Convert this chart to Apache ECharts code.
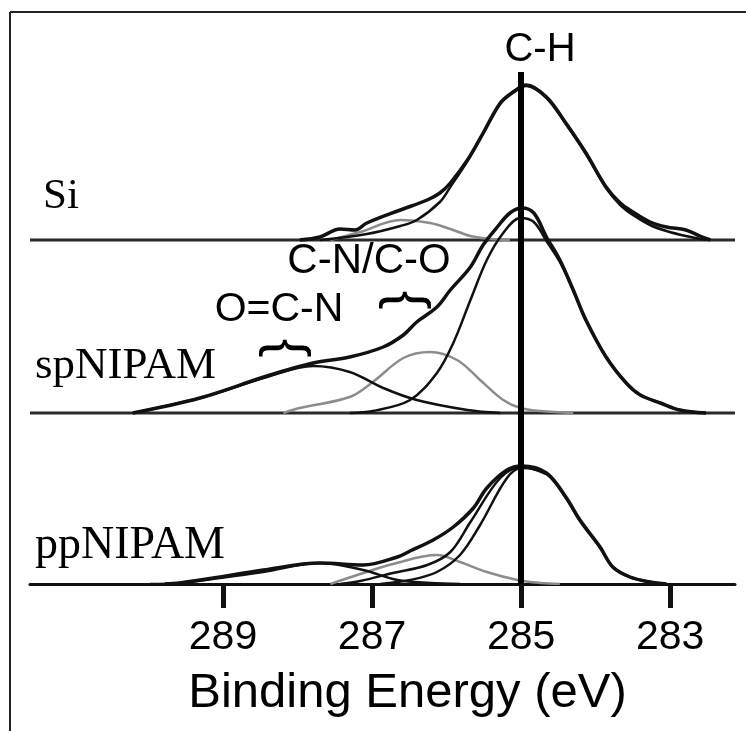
<!DOCTYPE html>
<html>
<head>
<meta charset="utf-8">
<script src="https://cdn.jsdelivr.net/npm/echarts@6/dist/echarts.min.js"></script>
<style>
    html, body { margin: 0; padding: 0; background: #fff; }
    #cn { width: 746px; height: 731px; }
</style>
</head>
<body>
<div id="cn"></div>
<script>
'use strict';

// binding energy (eV), intensity above own baseline (a.u.)
const siEnvelope = [[287.97,0],[287.70,3],[287.43,11],[287.23,10],[287.07,17],[286.62,30],[286.26,40],[286.09,47],[285.95,57],[285.72,80],[285.51,107],[285.28,137],[285.11,148],[284.93,155],[284.66,143],[284.40,117],[284.13,87],[283.86,53],[283.67,37],[283.50,28],[283.27,18],[283.05,13],[282.79,10],[282.60,4],[282.46,0]];
const siCH = [[287.70,0],[287.07,6],[286.62,14],[286.40,20],[286.09,38],[285.95,53],[285.72,79],[285.51,106],[285.28,136],[285.11,147],[284.93,154],[284.66,142],[284.40,116],[284.13,86],[283.86,52],[283.67,35],[283.50,25],[283.27,15],[283.05,9],[282.79,4],[282.52,0]];
const siCN = [[287.56,0],[287.16,8],[286.62,20],[286.22,17],[285.95,11],[285.68,4],[285.42,1],[285.15,0]];

const spEnvelope = [[290.21,0],[289.31,15],[288.41,37],[287.79,50],[287.30,56],[286.85,66],[286.58,78],[286.40,91],[286.13,106],[285.95,123],[285.68,146],[285.51,168],[285.32,186],[285.15,200],[284.99,205],[284.83,200],[284.66,176],[284.48,153],[284.30,123],[284.13,93],[283.86,56],[283.59,30],[283.40,18],[283.13,10],[282.87,3],[282.52,0]];
const spCH = [[287.30,0],[286.99,2],[286.49,13],[286.13,40],[285.91,70],[285.68,113],[285.46,153],[285.24,180],[285.01,195],[284.83,191],[284.66,172],[284.48,151],[284.30,122],[284.13,92],[283.86,56],[283.59,30],[283.40,18],[283.13,10],[282.87,3],[282.52,0]];
const spCN = [[288.19,0],[287.97,5],[287.30,16],[286.99,31],[286.58,55],[286.22,61],[285.86,53],[285.55,33],[285.24,13],[285.01,5],[284.74,2],[284.30,0]];
const spOCN = [[290.21,0],[289.31,15],[288.41,36],[287.79,47],[287.30,41],[286.85,25],[286.40,13],[285.72,3],[285.28,0]];

const ppEnvelope = [[289.78,0],[289.58,1],[289.04,7],[288.46,14],[287.70,21],[287.12,19],[286.66,27],[286.49,33],[286.18,44],[285.91,57],[285.64,76],[285.46,96],[285.19,114],[284.99,118],[284.66,111],[284.40,87],[284.21,64],[283.94,37],[283.77,17],[283.54,7],[283.27,2],[283.05,0]];
const ppCH = [[286.89,0],[286.49,4],[286.13,12],[285.82,29],[285.55,59],[285.19,106],[284.99,116],[284.66,110],[284.40,86],[284.21,63],[283.94,36],[283.77,17],[283.54,7],[283.27,2],[283.05,0]];
const ppFit = [[287.43,0],[287.16,3],[286.72,11],[286.26,19],[285.95,32],[285.68,62],[285.28,106],[284.99,117],[284.66,110]];
const ppCN = [[287.56,0],[287.16,10],[286.72,20],[286.13,29],[285.82,22],[285.46,12],[285.05,4],[284.74,1],[284.48,0]];
const ppOCN = [[289.98,0],[289.58,1],[289.04,6],[288.46,12],[287.70,21],[287.12,14],[286.66,4],[286.22,1],[285.82,0]];

const sampleNames = ['Si', 'spNIPAM', 'ppNIPAM'];
const sampleOffsets = [344, 171, 0];
const tickValues = [289, 287, 285, 283];
const energyMin = 282.13;
const energyMax = 291.59;
const chPosition = 285;
const chLineTop = 512;

const BLACK = '#111';
const GREY = '#8c8c8c';

function curve(pts, offset, color, width) {
    return {
        type: 'line',
        data: pts.map(p => [p[0], p[1] + offset]),
        smooth: 0.35,
        showSymbol: false,
        silent: true,
        lineStyle: { color: color, width: width },
        z: 3
    };
}

function baseline(offset) {
    return {
        type: 'line',
        data: [[energyMax, offset], [energyMin, offset]],
        showSymbol: false,
        silent: true,
        lineStyle: { color: '#2a2a2a', width: 3 },
        z: 2
    };
}

const series = [
    baseline(sampleOffsets[0]),
    baseline(sampleOffsets[1]),
    curve(siCN, sampleOffsets[0], GREY, 2.5),
    curve(siCH, sampleOffsets[0], BLACK, 2.5),
    curve(siEnvelope, sampleOffsets[0], BLACK, 3.5),
    curve(spCN, sampleOffsets[1], GREY, 2.5),
    curve(spOCN, sampleOffsets[1], BLACK, 2.5),
    curve(spCH, sampleOffsets[1], BLACK, 2.5),
    curve(spEnvelope, sampleOffsets[1], BLACK, 3.5),
    curve(ppCN, sampleOffsets[2], GREY, 2.5),
    curve(ppOCN, sampleOffsets[2], BLACK, 2.5),
    curve(ppFit, sampleOffsets[2], BLACK, 2.5),
    curve(ppCH, sampleOffsets[2], BLACK, 2.5),
    curve(ppEnvelope, sampleOffsets[2], BLACK, 3.5)
];

// C-H reference line
series[0].markLine = {
    symbol: 'none',
    silent: true,
    label: { show: false },
    lineStyle: { color: '#000', width: 6, type: 'solid' },
    data: [[{ coord: [chPosition, chLineTop] }, { coord: [chPosition, 0] }]],
    z: 10
};

const sans = 'Liberation Sans';
const serif = 'Liberation Serif';

function txt(text, x, y, size, family, align) {
    return {
        type: 'text',
        x: x,
        y: y,
        z: 20,
        style: {
            text: text,
            fontSize: size,
            fontFamily: family,
            fill: '#000',
            align: align,
            textAlign: align,
            verticalAlign: 'middle',
            textVerticalAlign: 'middle'
        }
    };
}

function brace(x, y) {
    const t = txt('{', x, y, 56, sans, 'center');
    t.rotation = -Math.PI / 2;
    return t;
}

const pandaChart = echarts.init(document.getElementById('cn'));

let option = {
    animation: false,
    backgroundColor: '#fff',
    grid: {
        left: 30,
        right: 11,
        top: 12,
        bottom: 147
    },
    xAxis: {
        type: 'value',
        inverse: true,
        min: energyMin,
        max: energyMax,
        name: 'Binding Energy (eV)',
        nameLocation: 'middle',
        nameGap: 85,
        nameTextStyle: {
            fontSize: 49,
            fontFamily: sans,
            color: '#000',
            padding: [0, 0, 0, 50]
        },
        axisLine: { onZero: false, lineStyle: { color: BLACK, width: 3 } },
        axisTick: {
            show: true,
            customValues: tickValues,
            length: 24,
            lineStyle: { color: BLACK, width: 5 }
        },
        axisLabel: {
            customValues: tickValues,
            fontSize: 41,
            fontFamily: sans,
            color: '#000',
            margin: 33
        },
        splitLine: { show: false }
    },
    yAxis: {
        type: 'value',
        min: 0,
        max: 572,
        show: false
    },
    graphic: [
        { type: 'line', shape: { x1: 10, y1: 12, x2: 746, y2: 12 }, style: { stroke: '#222', lineWidth: 2 }, z: 20 },
        { type: 'line', shape: { x1: 10, y1: 12, x2: 10, y2: 731 }, style: { stroke: '#222', lineWidth: 2 }, z: 20 },
        txt(sampleNames[0], 43, 197, 43, serif, 'left'),
        txt(sampleNames[1], 35, 366, 45, serif, 'left'),
        txt(sampleNames[2], 35, 546, 46, serif, 'left'),
        txt('C-H', 540, 50, 40, sans, 'center'),
        txt('C-N/C-O', 369, 261, 42, sans, 'center'),
        txt('O=C-N', 279, 310, 41, sans, 'center'),
        brace(406, 300),
        brace(286, 348)
    ],
    series: series
};

pandaChart.setOption(option);
</script>
</body>
</html>
